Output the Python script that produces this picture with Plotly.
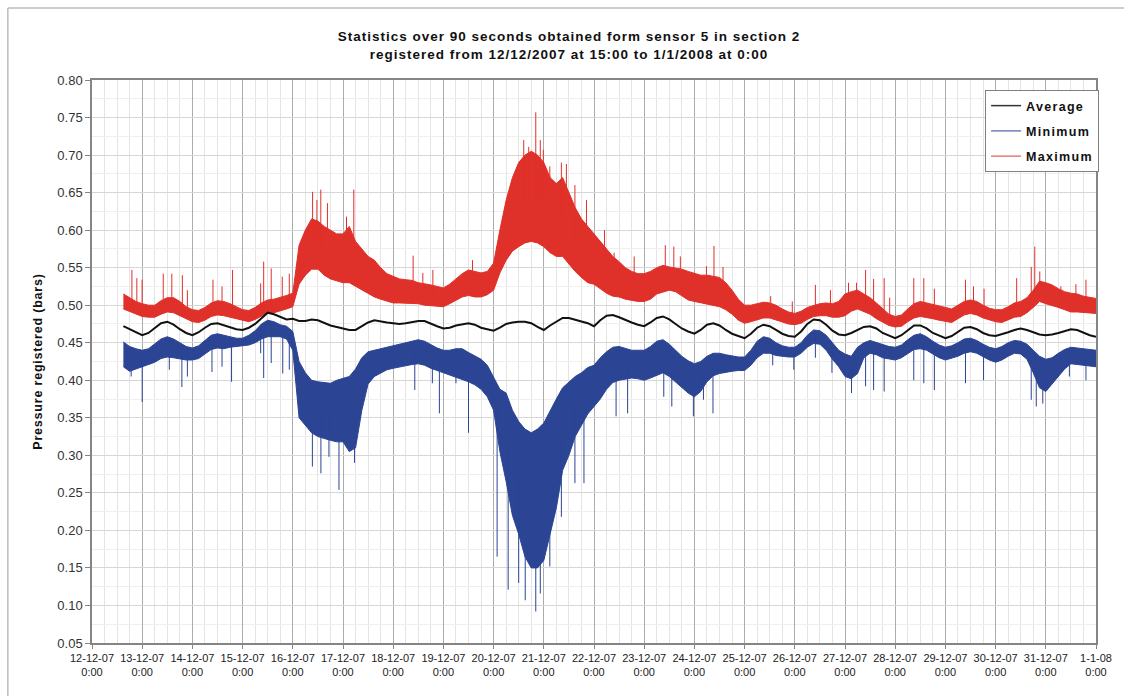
import numpy as np
import pandas as pd
import plotly.graph_objects as go

# ---------------------------------------------------------------------------
# Sensor 5, section 2 - 90 s statistics, sampled every 3 hours
# from 12-12-2007 15:00 to 1-1-2008 0:00 (one row per day below)
# ---------------------------------------------------------------------------
sample_time = pd.date_range("2007-12-12 15:00", "2008-01-01 00:00", freq="3h")

avg_pressure = [
    0.472, 0.468, 0.463,
    0.460, 0.463, 0.470, 0.476, 0.478, 0.474, 0.468, 0.463,
    0.460, 0.464, 0.470, 0.475, 0.476, 0.473, 0.470, 0.468,
    0.467, 0.470, 0.475, 0.483, 0.490, 0.488, 0.484, 0.481,
    0.482, 0.479, 0.479, 0.481, 0.480, 0.476, 0.473, 0.471,
    0.469, 0.467, 0.467, 0.472, 0.477, 0.480, 0.478, 0.477,
    0.476, 0.475, 0.476, 0.478, 0.479, 0.479, 0.475, 0.472,
    0.469, 0.470, 0.473, 0.475, 0.476, 0.474, 0.470, 0.468,
    0.466, 0.470, 0.475, 0.477, 0.478, 0.478, 0.476, 0.471,
    0.467, 0.473, 0.478, 0.483, 0.483, 0.481, 0.479, 0.476,
    0.472, 0.480, 0.486, 0.487, 0.484, 0.480, 0.477, 0.474,
    0.472, 0.477, 0.483, 0.485, 0.481, 0.475, 0.469, 0.465,
    0.462, 0.467, 0.474, 0.476, 0.473, 0.467, 0.462, 0.459,
    0.456, 0.462, 0.470, 0.474, 0.472, 0.467, 0.462, 0.459,
    0.458, 0.465, 0.475, 0.481, 0.480, 0.474, 0.466, 0.461,
    0.460, 0.463, 0.467, 0.471, 0.472, 0.469, 0.463, 0.459,
    0.456, 0.460, 0.467, 0.473, 0.473, 0.469, 0.463, 0.459,
    0.456, 0.459, 0.465, 0.470, 0.471, 0.468, 0.463, 0.460,
    0.459, 0.461, 0.464, 0.467, 0.469, 0.467, 0.464, 0.461,
    0.460, 0.461, 0.463, 0.466, 0.468, 0.467, 0.463, 0.460,
    0.458,
]

# upper / lower edge of the dense band of maximum readings
max_upper = [
    0.515, 0.510, 0.505,
    0.502, 0.500, 0.500, 0.506, 0.510, 0.510, 0.505, 0.498,
    0.494, 0.493, 0.497, 0.503, 0.506, 0.505, 0.502, 0.498,
    0.494, 0.493, 0.497, 0.503, 0.507, 0.508, 0.510, 0.513,
    0.516, 0.580, 0.600, 0.615, 0.612, 0.605, 0.600, 0.595,
    0.595, 0.605, 0.585, 0.575, 0.565, 0.560, 0.550, 0.542,
    0.538, 0.535, 0.534, 0.533, 0.530, 0.529, 0.527, 0.525,
    0.523, 0.528, 0.535, 0.542, 0.547, 0.545, 0.543, 0.545,
    0.556, 0.600, 0.640, 0.670, 0.690, 0.700, 0.705, 0.700,
    0.690, 0.670, 0.662, 0.670, 0.650, 0.630, 0.615, 0.605,
    0.596, 0.585, 0.575, 0.565, 0.558, 0.550, 0.545, 0.542,
    0.542, 0.545, 0.550, 0.553, 0.551, 0.550, 0.548, 0.545,
    0.542, 0.540, 0.540, 0.538, 0.537, 0.530, 0.520, 0.508,
    0.500, 0.500, 0.502, 0.504, 0.503, 0.500, 0.495, 0.491,
    0.489, 0.492, 0.497, 0.500, 0.502, 0.503, 0.502, 0.505,
    0.515, 0.518, 0.520, 0.515, 0.510, 0.503, 0.495, 0.488,
    0.485, 0.487, 0.495, 0.502, 0.505, 0.503, 0.500, 0.498,
    0.496, 0.495, 0.500, 0.505, 0.507, 0.505, 0.500, 0.496,
    0.494, 0.494, 0.498, 0.503, 0.505, 0.510, 0.520, 0.532,
    0.530, 0.527, 0.522, 0.518, 0.516, 0.515, 0.512, 0.510,
    0.509,
]
max_lower = [
    0.495, 0.492, 0.488,
    0.485, 0.484, 0.484, 0.488, 0.491, 0.490, 0.486, 0.481,
    0.478, 0.477, 0.480, 0.485, 0.487, 0.486, 0.484, 0.481,
    0.479, 0.478, 0.481, 0.486, 0.490, 0.490, 0.492, 0.495,
    0.498, 0.528, 0.540, 0.548, 0.548, 0.540, 0.535, 0.532,
    0.530, 0.530, 0.525, 0.520, 0.515, 0.511, 0.508, 0.505,
    0.503, 0.503, 0.503, 0.503, 0.502, 0.500, 0.499, 0.498,
    0.498, 0.502, 0.507, 0.511, 0.513, 0.511, 0.511, 0.514,
    0.520, 0.543, 0.560, 0.572, 0.578, 0.583, 0.585, 0.583,
    0.578, 0.570, 0.565, 0.565, 0.555, 0.545, 0.537, 0.530,
    0.528, 0.522, 0.516, 0.512, 0.511, 0.508, 0.506, 0.505,
    0.505, 0.508, 0.515, 0.518, 0.520, 0.518, 0.512, 0.507,
    0.505, 0.503, 0.502, 0.500, 0.498, 0.494, 0.488, 0.480,
    0.476, 0.478, 0.481, 0.483, 0.483, 0.480, 0.477, 0.475,
    0.474, 0.476, 0.481, 0.485, 0.486, 0.486, 0.484, 0.484,
    0.486, 0.492, 0.495, 0.492, 0.488, 0.482, 0.477, 0.473,
    0.471, 0.472, 0.478, 0.483, 0.485, 0.484, 0.482, 0.480,
    0.478, 0.477, 0.482, 0.487, 0.489, 0.487, 0.483, 0.480,
    0.478, 0.477, 0.481, 0.484, 0.485, 0.490, 0.497, 0.505,
    0.502, 0.500, 0.497, 0.494, 0.491, 0.491, 0.490, 0.489,
    0.489,
]

# upper / lower edge of the dense band of minimum readings
min_upper = [
    0.451, 0.445, 0.442,
    0.440, 0.442, 0.448, 0.455, 0.458, 0.455, 0.450, 0.445,
    0.443, 0.446, 0.453, 0.460, 0.462, 0.460, 0.458, 0.456,
    0.456, 0.460, 0.466, 0.475, 0.480, 0.478, 0.474, 0.472,
    0.465, 0.425, 0.410, 0.400, 0.398, 0.397, 0.396, 0.400,
    0.402, 0.405, 0.415, 0.430, 0.438, 0.440, 0.442, 0.444,
    0.445, 0.447, 0.450, 0.452, 0.454, 0.452, 0.447, 0.443,
    0.440, 0.440, 0.442, 0.442, 0.437, 0.433, 0.428, 0.420,
    0.405, 0.388, 0.383, 0.360, 0.345, 0.335, 0.330, 0.335,
    0.343, 0.360, 0.375, 0.390, 0.397, 0.405, 0.410, 0.417,
    0.420, 0.430, 0.438, 0.444, 0.445, 0.443, 0.440, 0.440,
    0.440, 0.445, 0.452, 0.454, 0.448, 0.440, 0.432, 0.426,
    0.422, 0.425, 0.432, 0.436, 0.436, 0.434, 0.432, 0.431,
    0.431, 0.440, 0.452, 0.458, 0.456, 0.450, 0.446, 0.444,
    0.444, 0.450, 0.460, 0.467, 0.466, 0.460, 0.450, 0.440,
    0.435, 0.432, 0.444, 0.450, 0.453, 0.450, 0.447, 0.445,
    0.444, 0.447, 0.454, 0.460, 0.462, 0.458, 0.452, 0.447,
    0.444, 0.446, 0.450, 0.455, 0.456, 0.453, 0.448, 0.444,
    0.442, 0.445, 0.450, 0.453, 0.452, 0.448, 0.440, 0.432,
    0.428, 0.430, 0.436, 0.441, 0.444, 0.443, 0.441, 0.440,
    0.440,
]
min_lower = [
    0.418, 0.412, 0.415,
    0.418, 0.420, 0.424, 0.429, 0.431, 0.430, 0.428, 0.427,
    0.427, 0.429, 0.435, 0.441, 0.443, 0.442, 0.444, 0.445,
    0.445, 0.447, 0.450, 0.455, 0.458, 0.458, 0.458, 0.455,
    0.440, 0.350, 0.340, 0.330, 0.325, 0.322, 0.320, 0.318,
    0.318, 0.305, 0.310, 0.360, 0.395, 0.405, 0.410, 0.414,
    0.416, 0.418, 0.420, 0.421, 0.422, 0.420, 0.416, 0.413,
    0.410, 0.408, 0.405, 0.402, 0.398, 0.394, 0.388, 0.378,
    0.360, 0.305, 0.265, 0.220, 0.195, 0.165, 0.150, 0.150,
    0.160, 0.195, 0.230, 0.280, 0.300, 0.325, 0.340, 0.355,
    0.365, 0.375, 0.388, 0.397, 0.400, 0.402, 0.403, 0.402,
    0.400, 0.403, 0.407, 0.410, 0.405, 0.398, 0.390, 0.383,
    0.378, 0.385, 0.398, 0.406, 0.409, 0.411, 0.412, 0.413,
    0.413, 0.420, 0.430, 0.436, 0.436, 0.433, 0.432, 0.431,
    0.431, 0.436, 0.444, 0.449, 0.448, 0.440, 0.428, 0.418,
    0.405, 0.402, 0.409, 0.430, 0.436, 0.434, 0.430, 0.428,
    0.427, 0.430, 0.436, 0.441, 0.442, 0.440, 0.435, 0.430,
    0.427, 0.429, 0.432, 0.436, 0.438, 0.436, 0.431, 0.427,
    0.424, 0.427, 0.432, 0.436, 0.435, 0.428, 0.410, 0.390,
    0.385, 0.395, 0.405, 0.415, 0.422, 0.421, 0.419, 0.418,
    0.418,
]

# isolated peaks of the maximum series (days after 12-12-2007 0:00, bars)
max_peak_day = [
    0.795, 0.893, 0.998, 1.419, 1.59, 1.80, 1.90, 2.41, 2.59, 2.80,
    3.36, 3.42, 3.57, 3.79, 3.93, 4.394, 4.48, 4.558, 4.69, 5.07,
    5.215, 6.397, 6.59, 6.79, 7.58, 8.60, 8.70, 8.84, 8.93, 8.99,
    9.12, 9.35, 9.45, 9.62, 9.85, 10.21, 10.40, 10.80, 11.42, 11.59,
    11.72, 12.24, 12.39, 12.57, 13.52, 13.95, 14.41, 14.71, 15.07, 15.23,
    15.41, 15.57, 15.78, 15.89, 16.37, 16.57, 16.78, 17.40, 17.56, 17.77,
    18.42, 18.71, 18.78, 18.88, 19.30, 19.60, 19.80,
]
max_peak_val = [
    0.547, 0.536, 0.534, 0.542, 0.542, 0.540, 0.520, 0.534, 0.525, 0.547,
    0.529, 0.558, 0.549, 0.538, 0.542, 0.651, 0.640, 0.654, 0.636, 0.618,
    0.654, 0.566, 0.543, 0.547, 0.560, 0.720, 0.711, 0.757, 0.720, 0.707,
    0.685, 0.690, 0.688, 0.660, 0.640, 0.600, 0.570, 0.565, 0.580, 0.578,
    0.565, 0.552, 0.579, 0.551, 0.512, 0.505, 0.527, 0.520, 0.530, 0.530,
    0.547, 0.535, 0.536, 0.510, 0.536, 0.536, 0.522, 0.534, 0.525, 0.522,
    0.536, 0.551, 0.578, 0.545, 0.525, 0.528, 0.534,
]

# isolated dips of the minimum series (days after 12-12-2007 0:00, bars)
min_dip_day = [
    0.78, 1.00, 1.54, 1.79, 1.90, 2.39, 2.59, 2.78, 3.36, 3.42,
    3.57, 3.80, 3.93, 4.39, 4.56, 4.72, 4.92, 5.23, 6.43, 6.78,
    6.92, 7.25, 7.50, 8.07, 8.29, 8.50, 8.63, 8.84, 8.93, 9.12,
    9.35, 9.62, 9.80, 10.44, 10.67, 11.39, 11.55, 11.98, 12.18, 12.37,
    13.56, 13.98, 14.41, 14.74, 15.13, 15.41, 15.57, 15.78, 16.37, 16.57,
    16.78, 17.40, 17.76, 18.71, 18.81, 18.94, 19.47, 19.80,
]
min_dip_val = [
    0.405, 0.371, 0.414, 0.391, 0.405, 0.411, 0.418, 0.398, 0.436, 0.403,
    0.423, 0.409, 0.414, 0.285, 0.276, 0.298, 0.254, 0.290, 0.387, 0.396,
    0.356, 0.396, 0.330, 0.165, 0.121, 0.130, 0.107, 0.092, 0.116, 0.152,
    0.218, 0.263, 0.263, 0.352, 0.356, 0.378, 0.365, 0.352, 0.374, 0.356,
    0.420, 0.414, 0.430, 0.410, 0.383, 0.392, 0.387, 0.385, 0.400, 0.396,
    0.387, 0.396, 0.400, 0.374, 0.365, 0.369, 0.405, 0.400,
]

for series in (avg_pressure, max_upper, max_lower, min_upper, min_lower):
    assert len(series) == len(sample_time)

RED = "#E0302A"
BLUE = "#2B4494"
BLACK = "#111111"
FONT = "Liberation Sans, Arial, sans-serif"

t0 = pd.Timestamp("2007-12-12")
sample_day = (sample_time - t0) / pd.Timedelta(days=1)


def spaced(text, px):
    """Bold text with a little extra letter spacing."""
    return f'<span style="letter-spacing:{px}px"><b>{text}</b></span>'


def stick_segments(days, values, edge_a, edge_b):
    """Vertical strokes from the middle of a band out to each listed value."""
    mid = (np.asarray(edge_a) + np.asarray(edge_b)) / 2.0
    xs, ys = [], []
    for d, v in zip(days, values):
        when = (t0 + pd.Timedelta(days=d)).strftime("%Y-%m-%d %H:%M:%S")
        xs += [when, when, None]
        ys += [float(np.interp(d, sample_day, mid)), v, None]
    return xs, ys


fig = go.Figure()

# Maximum: dense band + peaks
fig.add_trace(go.Scatter(x=sample_time, y=max_lower, mode="lines",
                         line=dict(color=RED, width=1), hoverinfo="skip",
                         showlegend=False))
fig.add_trace(go.Scatter(x=sample_time, y=max_upper, mode="lines",
                         line=dict(color=RED, width=1), fill="tonexty",
                         fillcolor=RED, showlegend=False))
px_, py_ = stick_segments(max_peak_day, max_peak_val, max_upper, max_lower)
fig.add_trace(go.Scatter(x=px_, y=py_, mode="lines",
                         line=dict(color=RED, width=1), showlegend=False,
                         hoverinfo="skip"))

# Minimum: dense band + dips
fig.add_trace(go.Scatter(x=sample_time, y=min_lower, mode="lines",
                         line=dict(color=BLUE, width=1), hoverinfo="skip",
                         showlegend=False))
fig.add_trace(go.Scatter(x=sample_time, y=min_upper, mode="lines",
                         line=dict(color=BLUE, width=1), fill="tonexty",
                         fillcolor=BLUE, showlegend=False))
dx_, dy_ = stick_segments(min_dip_day, min_dip_val, min_upper, min_lower)
fig.add_trace(go.Scatter(x=dx_, y=dy_, mode="lines",
                         line=dict(color=BLUE, width=1), showlegend=False,
                         hoverinfo="skip"))

# Average
fig.add_trace(go.Scatter(x=sample_time, y=avg_pressure, mode="lines",
                         line=dict(color=BLACK, width=2), showlegend=False))

# legend entries
for name, colour in (("Average", "#333333"), ("Minimum", "#6F7FB8"),
                     ("Maximum", "#E57A75")):
    fig.add_trace(go.Scatter(x=[None], y=[None], mode="lines",
                             name=spaced(name, 1.3), legendgroup=name,
                             line=dict(color=colour, width=1.5)))

# outer chart frame: left and top edges
frame_left = (7 - 92) / 1014
frame_top = (643 - 8) / 563
frame_line = dict(color="#BDBDBD", width=1.5)

fig.update_layout(
    width=1124, height=696,
    margin=dict(l=92, r=18, t=80, b=53),
    paper_bgcolor="white", plot_bgcolor="white",
    font=dict(family=FONT, color="#222222"),
    title=dict(
        text=spaced("Statistics over 90 seconds obtained form sensor 5 in section 2", 1)
             + "<br>"
             + spaced("registered from 12/12/2007 at 15:00 to 1/1/2008 at 0:00", 1),
        x=569 / 1124, xref="container", xanchor="center",
        y=1 - 41 / 696, yref="container", yanchor="middle",
        font=dict(size=13.5, family=FONT, color="#111111"),
    ),
    legend=dict(
        x=(994 - 92) / 1014, y=(643 - 90) / 563, xanchor="left", yanchor="top",
        bgcolor="white", bordercolor="#808080", borderwidth=1,
        font=dict(size=12.5, family=FONT, color="#111111"),
        tracegroupgap=6, traceorder="grouped",
    ),
    showlegend=True,
    shapes=[
        dict(type="line", xref="paper", yref="paper", x0=frame_left, x1=frame_left,
             y0=-0.2, y1=frame_top, line=frame_line, layer="below"),
        dict(type="line", xref="paper", yref="paper", x0=frame_left, x1=1.1,
             y0=frame_top, y1=frame_top, line=frame_line, layer="below"),
    ],
)

fig.update_xaxes(
    type="date", range=["2007-12-12 00:00", "2008-01-01 00:00"],
    tick0="2007-12-12", dtick=86400000, tickformat="%-d-%-m-%y<br>%-H:%M",
    tickfont=dict(size=11, family=FONT, color="#222222"),
    showgrid=True, gridcolor="#ABABAB", gridwidth=1,
    minor=dict(dtick=21600000, showgrid=True, gridcolor="#E4E4E4", gridwidth=1),
    showline=True, linecolor="#858585", linewidth=1.5, mirror=True,
    ticks="outside", ticklen=4, tickcolor="#858585", zeroline=False,
)
fig.update_yaxes(
    range=[0.05, 0.80], tick0=0.05, dtick=0.05, tickformat=".2f",
    tickfont=dict(size=13, family=FONT, color="#333333"),
    showgrid=True, gridcolor="#D6D6D6", gridwidth=1,
    minor=dict(dtick=0.025, showgrid=True, gridcolor="#EFEFEF", gridwidth=1),
    showline=True, linecolor="#858585", linewidth=1.5, mirror=True,
    ticks="outside", ticklen=5, tickcolor="#858585", zeroline=False,
    title=dict(text=spaced("Pressure registered (bars)", 0.8),
               font=dict(size=12.5, family=FONT, color="#111111"), standoff=12),
)

fig.write_html("out.html")
